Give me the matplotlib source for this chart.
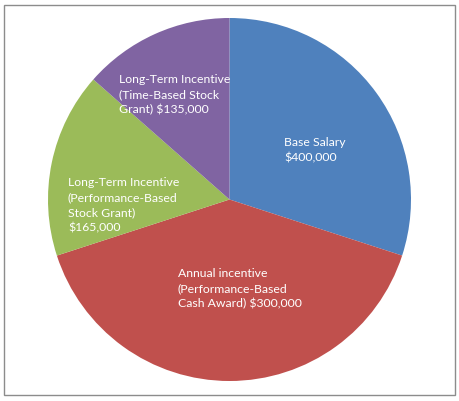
import matplotlib
matplotlib.use("Agg")
import matplotlib.pyplot as plt
from matplotlib.patches import Rectangle

# slice sizes as drawn in the picture (share of the circle, %)
shares = [30, 40, 16.5, 13.5]
labels = [
    "Base Salary\n$400,000",
    "Annual incentive\n(Performance-Based\nCash Award) $300,000",
    "Long-Term Incentive\n(Performance-Based\nStock Grant)\n$165,000",
    "Long-Term Incentive\n(Time-Based Stock\nGrant) $135,000",
]
colors = ["#4F81BD", "#C0504D", "#9BBB59", "#8064A2"]

# where the label blocks sit (top-left corner, pixels from top-left)
label_pos = [(284, 137), (178, 268), (68, 177), (119, 74)]

W, H = 459, 401
fig = plt.figure(figsize=(W / 100, H / 100), dpi=100)
ax = fig.add_axes([0, 0, 1, 1])

# pie in pixel units; y axis is flipped so counterclock=True runs clockwise on screen
ax.pie(shares, colors=colors, startangle=-90, counterclock=True,
       center=(229.5, 199.5), radius=181.5, frame=True,
       wedgeprops=dict(linewidth=0))
ax.set_xlim(0, W)
ax.set_ylim(H, 0)
ax.set_aspect("equal")
ax.axis("off")

for txt, (x, y) in zip(labels, label_pos):
    ax.text(x, y, txt, ha="left", va="top", color="white",
            fontsize=8.8, family="Lato", linespacing=1.47)

fig.patches.append(Rectangle((4 / W, 1 - 395 / H), 451 / W, 390 / H,
                             transform=fig.transFigure, fill=False,
                             edgecolor="#8c8c8c", linewidth=1))

fig.savefig("out.png", dpi=100, facecolor="white")
